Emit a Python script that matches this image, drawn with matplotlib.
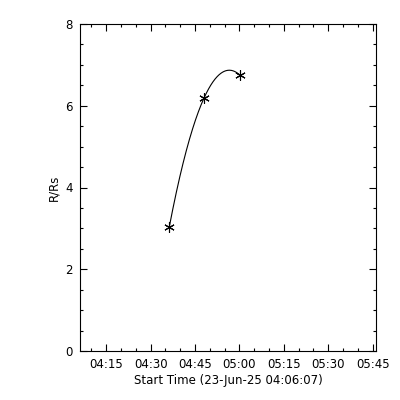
import numpy as np
import matplotlib
matplotlib.use("Agg")
import matplotlib.pyplot as plt
from matplotlib.ticker import FixedLocator, MultipleLocator

# ---- data ----
start_time = "04:06:07"
start_date = "23-Jun-25"
obs_times = ["04:36:16", "04:48:05", "05:00:08"]
heights = [3.03, 6.20, 6.75]
tick_labels = ["04:15", "04:30", "04:45", "05:00", "05:15", "05:30", "05:45"]
x_end_time = "05:46:07"
y_range = [0, 8]


def to_sec(s):
    parts = [int(p) for p in s.split(":")]
    while len(parts) < 3:
        parts.append(0)
    return parts[0] * 3600 + parts[1] * 60 + parts[2]


t0 = to_sec(start_time)
t = np.array([to_sec(s) - t0 for s in obs_times], dtype=float)
h = np.array(heights)

plt.rcParams['font.family'] = ['DejaVu Sans']
fig = plt.figure(figsize=(4, 4), dpi=100)
ax = fig.add_axes([0.2, 0.1225, 0.74, 0.8175])

# quadratic fit drawn between first and last points
coef = np.polyfit(t, h, 2)
tt = np.linspace(t.min(), t.max(), 200)
ax.plot(tt, np.polyval(coef, tt), color='black', lw=0.8)
ax.plot(t, h, linestyle='none', marker=(6, 2, 0), markersize=7.5,
        markeredgewidth=0.8, color='black')

ax.set_xlim(0, to_sec(x_end_time) - t0)
ax.set_ylim(*y_range)

major = [to_sec(s) - t0 for s in tick_labels]
ax.xaxis.set_major_locator(FixedLocator(major))
ax.set_xticklabels(tick_labels)
minor = [m for m in range(300 - (t0 % 300), int(to_sec(x_end_time) - t0) + 1, 300)]
ax.xaxis.set_minor_locator(FixedLocator(minor))
ax.yaxis.set_major_locator(MultipleLocator(2))
ax.yaxis.set_minor_locator(MultipleLocator(0.5))

ax.tick_params(which='both', direction='in', top=True, right=True,
               width=0.8, colors='black', labelsize=8.5)
ax.tick_params(which='major', length=5, pad=5)
ax.tick_params(which='minor', length=2.5)
for sp in ax.spines.values():
    sp.set_linewidth(0.8)

ax.set_xlabel(f"Start Time ({start_date} {start_time})", fontsize=8.5, labelpad=2)
ax.set_ylabel("R/Rs", fontsize=8.5, labelpad=4)

fig.savefig("out.png", dpi=100, facecolor='white')
